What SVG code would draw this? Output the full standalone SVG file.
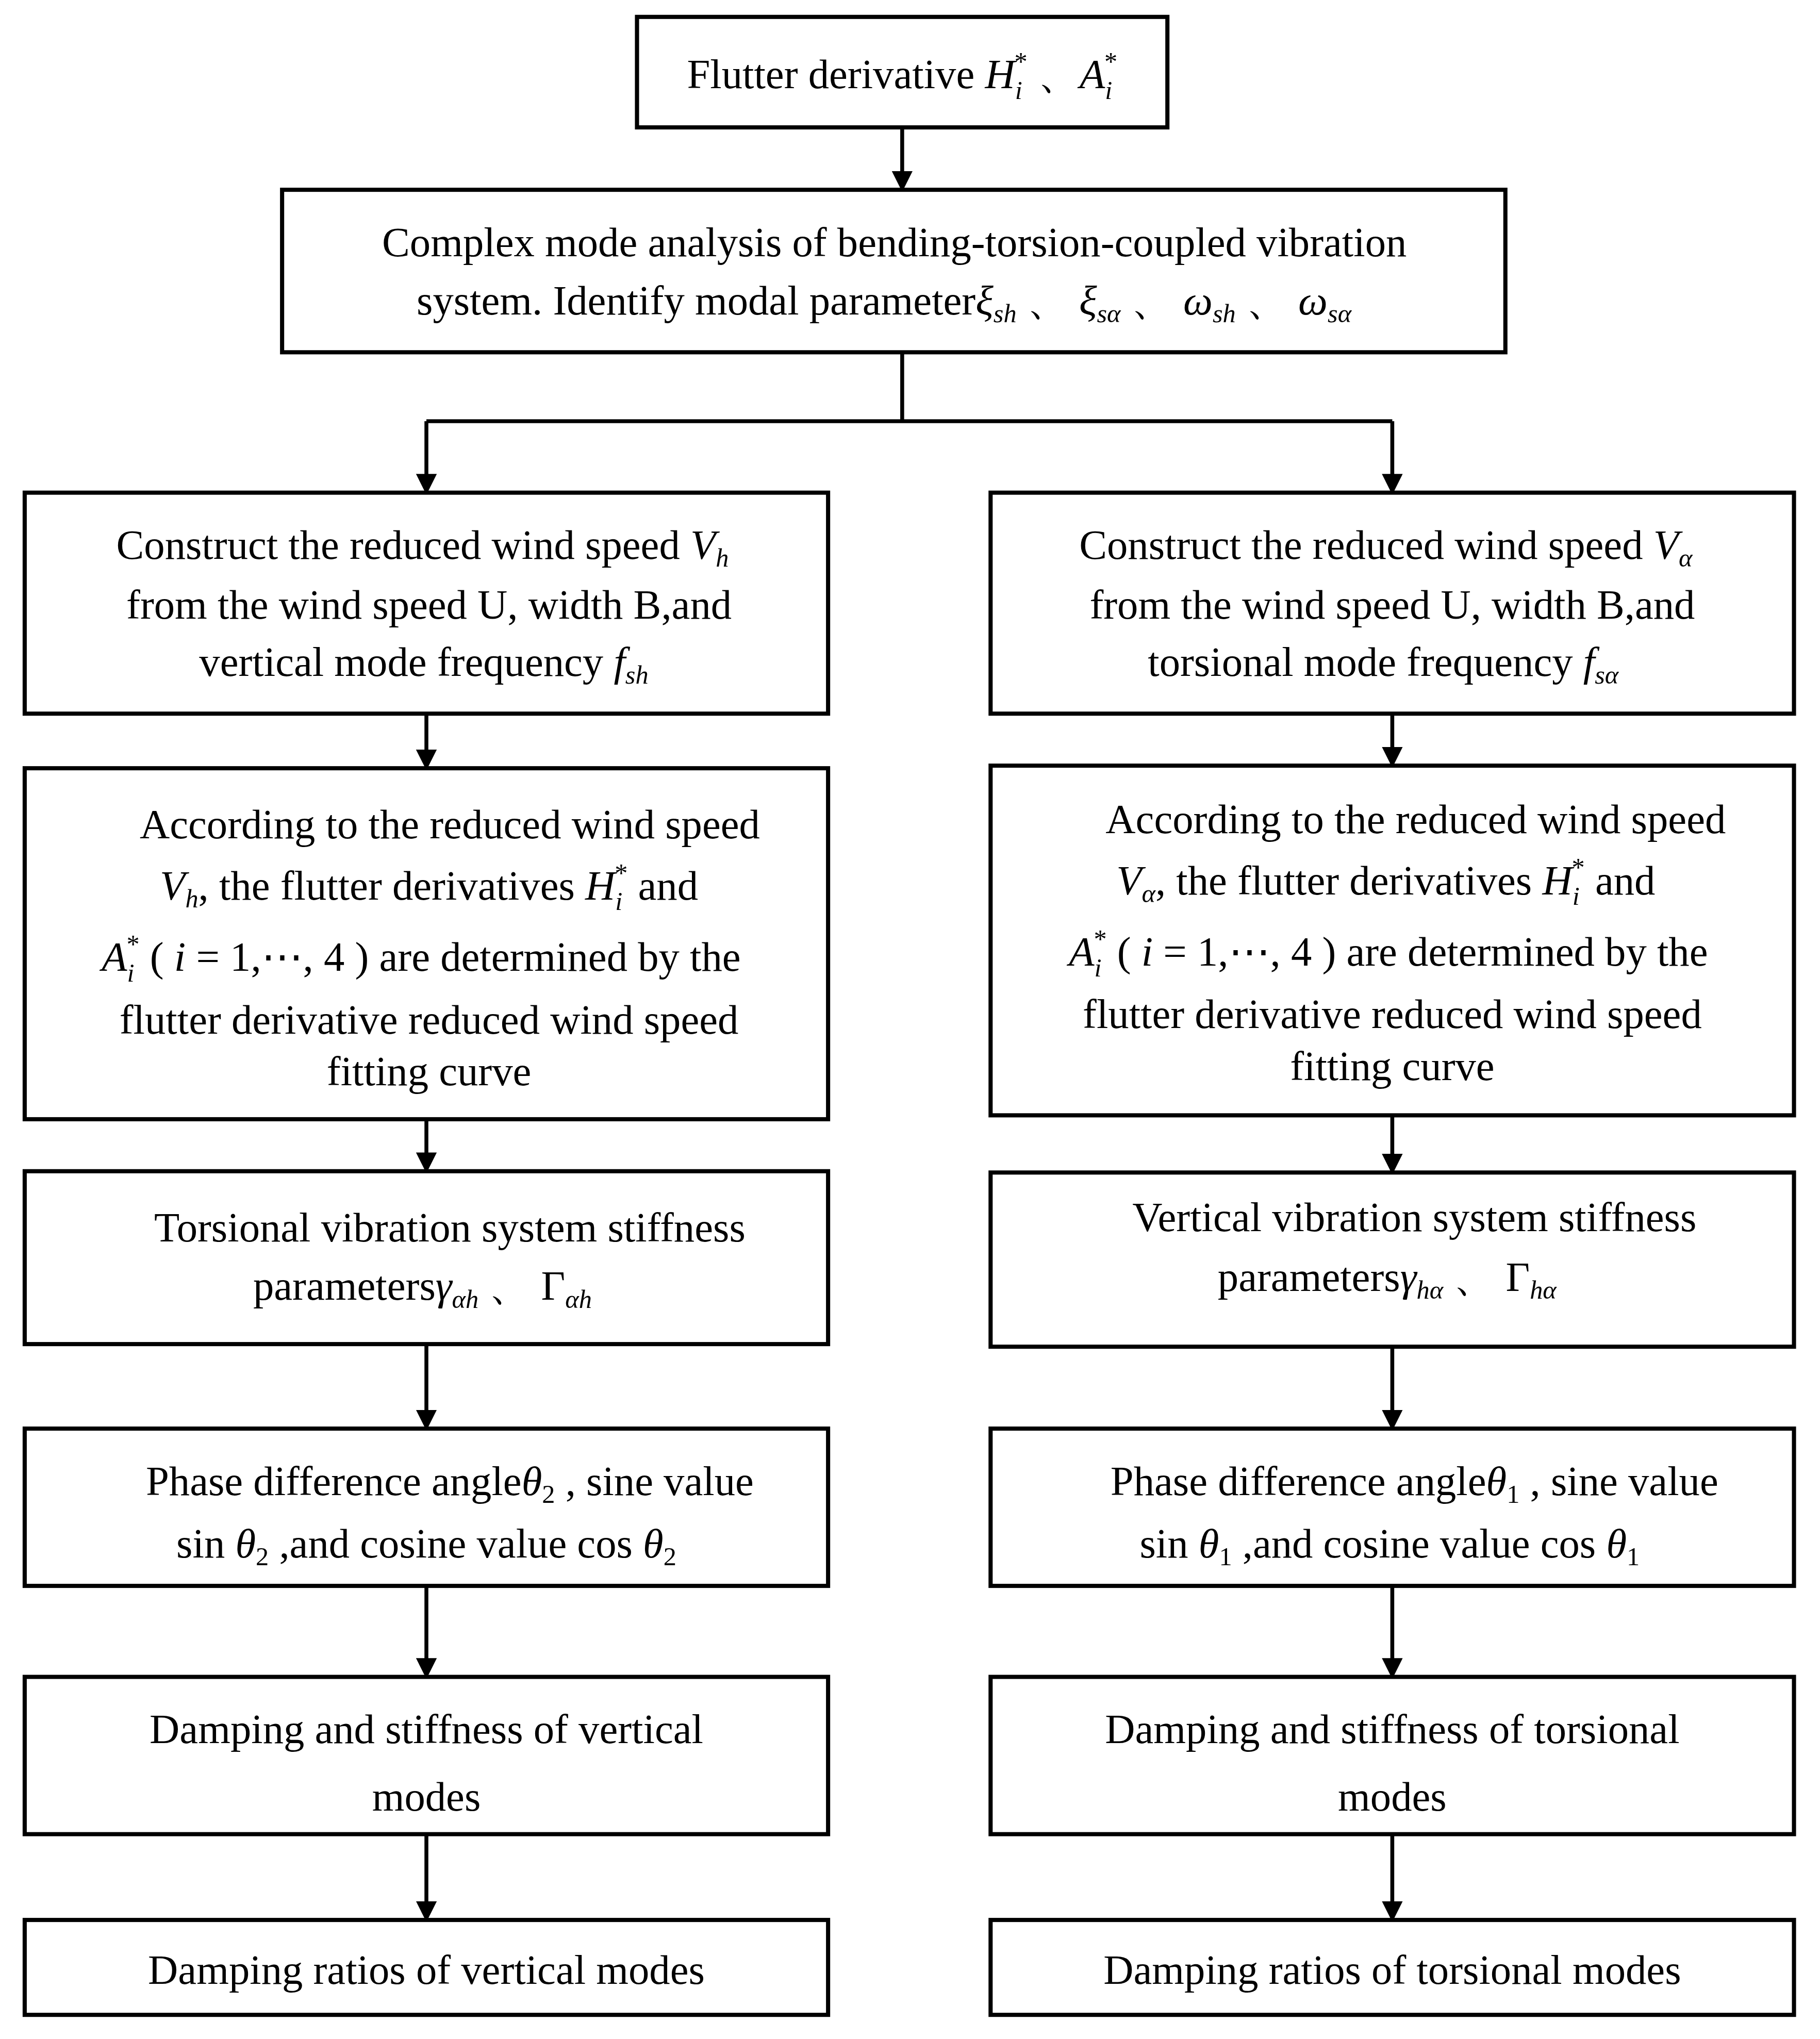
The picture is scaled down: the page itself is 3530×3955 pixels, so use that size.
<svg xmlns="http://www.w3.org/2000/svg" width="3530" height="3955" viewBox="0 0 3530 3955">
<style>
.b{fill:#fff;stroke:#000;stroke-width:3.2}
.t{font-family:"Liberation Serif","Times New Roman",serif;font-size:32px;fill:#000;text-anchor:middle}
.i{font-style:italic}
.s{font-size:20px}
.c{fill:none;stroke:#000;stroke-width:3}
</style>
<defs><marker id="a" markerWidth="10" markerHeight="10" refX="8" refY="5" orient="auto" markerUnits="userSpaceOnUse"><path d="M0,0L10,5L0,10z" fill="#000"/></marker>
<marker id="m" viewBox="0 0 10 10" markerWidth="16" markerHeight="16" refX="9" refY="5" orient="auto" markerUnits="userSpaceOnUse"><path d="M0,0L10,5L0,10z" fill="#000"/></marker></defs>
<rect width="3530" height="3955" fill="#fff"/>
<g transform="scale(2.5214)">
<g id="connectors">
<path class="c" marker-end="url(#m)" d="M694,98V146"/>
<path class="c" d="M694,271V324H328M694,324H1071"/>
<path class="c" marker-end="url(#m)" d="M328,324V379"/>
<path class="c" marker-end="url(#m)" d="M1071,324V379"/>
<path class="c" marker-end="url(#m)" d="M328,549V591"/>
<path class="c" marker-end="url(#m)" d="M1071,549V589"/>
<path class="c" marker-end="url(#m)" d="M328,861V901"/>
<path class="c" marker-end="url(#m)" d="M1071,858V902"/>
<path class="c" marker-end="url(#m)" d="M328,1034V1099"/>
<path class="c" marker-end="url(#m)" d="M1071,1036V1099"/>
<path class="c" marker-end="url(#m)" d="M328,1220V1290"/>
<path class="c" marker-end="url(#m)" d="M1071,1220V1290"/>
<path class="c" marker-end="url(#m)" d="M328,1411V1477"/>
<path class="c" marker-end="url(#m)" d="M1071,1411V1477"/>
</g>
<g id="n0"><rect class="b" x="490" y="13" width="408" height="85"/>
<text class="t" x="694" y="68">Flutter derivative <tspan class="i">H</tspan><tspan class="i s" dy="8">i</tspan><tspan class="s" dx="-6" dy="-22">*</tspan><tspan dy="14"> 、</tspan><tspan class="i">A</tspan><tspan class="i s" dy="8">i</tspan><tspan class="s" dx="-6" dy="-22">*</tspan></text></g>
<g id="n1"><rect class="b" x="217" y="146" width="941" height="125"/>
<text class="t" x="688" y="197">Complex mode analysis of bending-torsion-coupled vibration</text>
<text class="t" x="680" y="242">system. Identify modal parameter<tspan class="i">ξ</tspan><tspan class="i s" dy="6">sh</tspan><tspan dy="-6"> 、 </tspan><tspan class="i">ξ</tspan><tspan class="i s" dy="6">sα</tspan><tspan dy="-6"> 、 </tspan><tspan class="i">ω</tspan><tspan class="i s" dy="6">sh</tspan><tspan dy="-6"> 、 </tspan><tspan class="i">ω</tspan><tspan class="i s" dy="6">sα</tspan></text></g>
<g id="l1"><rect class="b" x="19" y="379" width="618" height="170"/>
<text class="t" x="325" y="430">Construct the reduced wind speed  <tspan class="i">V</tspan><tspan class="i s" dy="6">h</tspan></text>
<text class="t" x="330" y="476">from the wind speed U, width B,and</text>
<text class="t" x="326" y="520">vertical mode frequency <tspan class="i">f</tspan><tspan class="i s" dy="6">sh</tspan></text></g>
<g id="r1"><rect class="b" x="762" y="379" width="618" height="170"/>
<text class="t" x="1066" y="430">Construct the reduced wind speed  <tspan class="i">V</tspan><tspan class="i s" dy="6">α</tspan></text>
<text class="t" x="1071" y="476">from the wind speed U, width B,and</text>
<text class="t" x="1064" y="520">torsional mode frequency  <tspan class="i">f</tspan><tspan class="i s" dy="6">sα</tspan></text></g>
<g id="l2"><rect class="b" x="19" y="591" width="618" height="270"/>
<text class="t" x="346" y="645">According to the reduced wind speed</text>
<text class="t" x="330" y="692"><tspan class="i">V</tspan><tspan class="i s" dy="6">h</tspan><tspan dy="-6">, the flutter derivatives  </tspan><tspan class="i">H</tspan><tspan class="i s" dy="8">i</tspan><tspan class="s" dx="-6" dy="-22">*</tspan><tspan dy="14">  and</tspan></text>
<text class="t" x="324" y="747"><tspan class="i">A</tspan><tspan class="i s" dy="8">i</tspan><tspan class="s" dx="-6" dy="-22">*</tspan><tspan dy="14"> ( </tspan><tspan class="i">i</tspan> = 1,⋯, 4 ) are determined by the</text>
<text class="t" x="330" y="795">flutter derivative reduced wind speed</text>
<text class="t" x="330" y="835">fitting curve</text></g>
<g id="r2"><rect class="b" x="762" y="589" width="618" height="269"/>
<text class="t" x="1089" y="641">According to the reduced wind speed</text>
<text class="t" x="1066" y="688"><tspan class="i">V</tspan><tspan class="i s" dy="6">α</tspan><tspan dy="-6">, the flutter derivatives  </tspan><tspan class="i">H</tspan><tspan class="i s" dy="8">i</tspan><tspan class="s" dx="-6" dy="-22">*</tspan><tspan dy="14">  and</tspan></text>
<text class="t" x="1068" y="743"><tspan class="i">A</tspan><tspan class="i s" dy="8">i</tspan><tspan class="s" dx="-6" dy="-22">*</tspan><tspan dy="14"> ( </tspan><tspan class="i">i</tspan> = 1,⋯, 4 ) are determined by the</text>
<text class="t" x="1071" y="791">flutter derivative reduced wind speed</text>
<text class="t" x="1071" y="831">fitting curve</text></g>
<g id="l3"><rect class="b" x="19" y="901" width="618" height="133"/>
<text class="t" x="346" y="955">Torsional vibration system stiffness</text>
<text class="t" x="325" y="1000">parameters<tspan class="i">γ</tspan><tspan class="i s" dy="6">αh</tspan><tspan dy="-6">  、  Γ</tspan><tspan class="i s" dy="6">αh</tspan></text></g>
<g id="r3"><rect class="b" x="762" y="902" width="618" height="134"/>
<text class="t" x="1088" y="947">Vertical vibration system stiffness</text>
<text class="t" x="1067" y="993">parameters<tspan class="i">γ</tspan><tspan class="i s" dy="6">hα</tspan><tspan dy="-6">  、  Γ</tspan><tspan class="i s" dy="6">hα</tspan></text></g>
<g id="l4"><rect class="b" x="19" y="1099" width="618" height="121"/>
<text class="t" x="346" y="1150">Phase difference angle<tspan class="i">θ</tspan><tspan class="s" dy="6">2</tspan><tspan dy="-6"> , sine value</tspan></text>
<text class="t" x="328" y="1198">sin <tspan class="i">θ</tspan><tspan class="s" dy="6">2</tspan><tspan dy="-6"> ,and cosine value   cos </tspan><tspan class="i">θ</tspan><tspan class="s" dy="6">2</tspan></text></g>
<g id="r4"><rect class="b" x="762" y="1099" width="618" height="121"/>
<text class="t" x="1088" y="1150">Phase difference angle<tspan class="i">θ</tspan><tspan class="s" dy="6">1</tspan><tspan dy="-6"> , sine value</tspan></text>
<text class="t" x="1069" y="1198">sin <tspan class="i">θ</tspan><tspan class="s" dy="6">1</tspan><tspan dy="-6"> ,and cosine value   cos </tspan><tspan class="i">θ</tspan><tspan class="s" dy="6">1</tspan></text></g>
<g id="l5"><rect class="b" x="19" y="1290" width="618" height="121"/>
<text class="t" x="328" y="1341">Damping and stiffness of vertical</text>
<text class="t" x="328" y="1393">modes</text></g>
<g id="r5"><rect class="b" x="762" y="1290" width="618" height="121"/>
<text class="t" x="1071" y="1341">Damping and stiffness of torsional</text>
<text class="t" x="1071" y="1393">modes</text></g>
<g id="l6"><rect class="b" x="19" y="1477" width="618" height="73"/>
<text class="t" x="328" y="1526">Damping ratios of vertical modes</text></g>
<g id="r6"><rect class="b" x="762" y="1477" width="618" height="73"/>
<text class="t" x="1071" y="1526">Damping ratios of torsional modes</text></g>
</g>
</svg>
